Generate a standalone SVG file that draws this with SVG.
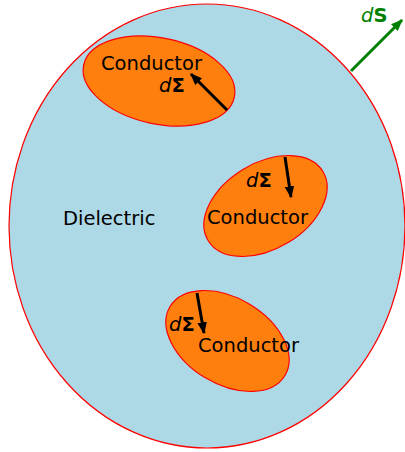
<svg xmlns="http://www.w3.org/2000/svg" width="405" height="452" viewBox="0 0 405 452">
<defs>
<marker id="ah" viewBox="0 0 10 10" refX="9" refY="5" markerWidth="4" markerHeight="4" orient="auto" markerUnits="strokeWidth"><path d="M0,1 L10,5 L0,9 z" fill="#000"/></marker>
<marker id="ahg" viewBox="0 0 10 10" refX="9" refY="5" markerWidth="4" markerHeight="4" orient="auto" markerUnits="strokeWidth"><path d="M0,1 L10,5 L0,9 z" fill="#008000"/></marker>
</defs>
<style>
.t{font-family:"DejaVu Sans",sans-serif;font-size:19.5px;fill:#000}
.cond{fill:#ff7f0e;stroke:#ff0000;stroke-width:1.2}
.arr{stroke:#000;stroke-width:3;fill:none;marker-end:url(#ah)}
</style>
<g id="dielectric">
<ellipse cx="207" cy="226" rx="198" ry="222" fill="#add8e6" stroke="#ff0000" stroke-width="1.2"/>
<text class="t" x="63" y="225">Dielectric</text>
</g>
<g id="conductor1">
<ellipse class="cond" cx="159" cy="81" rx="77" ry="43" transform="rotate(12 159 81)"/>
<text class="t" x="101" y="70">Conductor</text>
<text class="t" x="159" y="92"><tspan font-style="italic">d</tspan><tspan font-weight="bold">Σ</tspan></text>
</g>
<g id="conductor2">
<ellipse class="cond" cx="265.5" cy="206" rx="67" ry="43" transform="rotate(-31 265.5 206)"/>
<text class="t" x="246" y="187"><tspan font-style="italic">d</tspan><tspan font-weight="bold">Σ</tspan></text>
<text class="t" x="207" y="224">Conductor</text>
</g>
<g id="conductor3">
<ellipse class="cond" cx="227.5" cy="341" rx="67" ry="43" transform="rotate(31 227.5 341)"/>
<text class="t" x="169" y="331"><tspan font-style="italic">d</tspan><tspan font-weight="bold">Σ</tspan></text>
<text class="t" x="198" y="352">Conductor</text>
</g>
<g id="dS-label">
<text x="361" y="22" font-family="DejaVu Sans,sans-serif" font-size="19.5" fill="#008000"><tspan font-style="italic">d</tspan><tspan font-weight="bold">S</tspan></text>
</g>
<g id="connectors">
<line class="arr" x1="227" y1="110" x2="191" y2="74"/>
<line class="arr" x1="285" y1="157" x2="291" y2="197"/>
<line class="arr" x1="197" y1="293" x2="204" y2="333"/>
<line x1="351" y1="71" x2="402" y2="20" stroke="#008000" stroke-width="3" marker-end="url(#ahg)"/>
</g>
</svg>
